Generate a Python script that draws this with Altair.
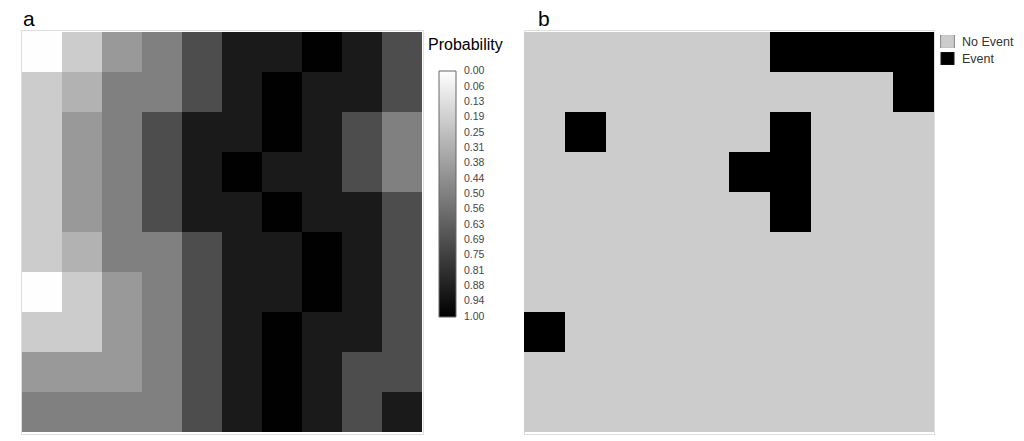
import altair as alt
import pandas as pd

# Probability grid (rows top -> bottom, columns left -> right)
row_01 = [0.0, 0.2, 0.4, 0.5, 0.7, 0.9, 0.9, 1.0, 0.9, 0.7]
row_02 = [0.2, 0.3, 0.5, 0.5, 0.7, 0.9, 1.0, 0.9, 0.9, 0.7]
row_03 = [0.2, 0.4, 0.5, 0.7, 0.9, 0.9, 1.0, 0.9, 0.7, 0.5]
row_04 = [0.2, 0.4, 0.5, 0.7, 0.9, 1.0, 0.9, 0.9, 0.7, 0.5]
row_05 = [0.2, 0.4, 0.5, 0.7, 0.9, 0.9, 1.0, 0.9, 0.9, 0.7]
row_06 = [0.2, 0.3, 0.5, 0.5, 0.7, 0.9, 0.9, 1.0, 0.9, 0.7]
row_07 = [0.0, 0.2, 0.4, 0.5, 0.7, 0.9, 0.9, 1.0, 0.9, 0.7]
row_08 = [0.2, 0.2, 0.4, 0.5, 0.7, 0.9, 1.0, 0.9, 0.9, 0.7]
row_09 = [0.4, 0.4, 0.4, 0.5, 0.7, 0.9, 1.0, 0.9, 0.7, 0.7]
row_10 = [0.5, 0.5, 0.5, 0.5, 0.7, 0.9, 1.0, 0.9, 0.7, 0.9]
prob_rows = [row_01, row_02, row_03, row_04, row_05, row_06, row_07, row_08, row_09, row_10]

# Event cells (row, column), 1-based from top-left
event_rows = [1, 1, 1, 1, 2, 3, 3, 4, 4, 5, 8]
event_cols = [7, 8, 9, 10, 10, 2, 7, 6, 7, 7, 1]

legend_values = [k / 16 for k in range(17)]
event_labels = ["No Event", "Event"]
event_colors = ["#cccccc", "#000000"]

FONT = "Liberation Sans"

prob_records = []
for r, vals in enumerate(prob_rows, start=1):
    for c, v in enumerate(vals, start=1):
        prob_records.append({"row": r, "col": c, "p": v})
prob_df = pd.DataFrame(prob_records)

event_set = set(zip(event_rows, event_cols))
ev_records = []
for r in range(1, 11):
    for c in range(1, 11):
        ev_records.append({"row": r, "col": c,
                           "status": "Event" if (r, c) in event_set else "No Event"})
ev_df = pd.DataFrame(ev_records)

# tiny padding of the domain keeps the end labels vertically centred on their ticks
prob_scale = alt.Scale(domain=[1.002, -0.002], range=["#000000", "#ffffff"], interpolate="rgb")
band_x = alt.Scale(round=True)
band_y = alt.Scale(round=True)

heat = alt.Chart(prob_df).mark_rect().encode(
    x=alt.X("col:O", axis=None, scale=band_x),
    y=alt.Y("row:O", axis=None, scale=band_y),
    color=alt.Color(
        "p:Q",
        scale=prob_scale,
        legend=alt.Legend(
            title=None,
            orient="none",
            legendX=418,
            legendY=41,
            values=legend_values,
            format=".2f",
            gradientLength=246,
            gradientThickness=17,
            gradientStrokeColor="#666666",
            gradientStrokeWidth=1,
            labelOverlap=False,
            labelOffset=8,
            labelFontSize=10.5,
            labelFont=FONT,
            labelColor="#444444",
        ),
    ),
)

prob_title = alt.Chart(pd.DataFrame({"t": ["Probability"]})).mark_text(
    align="left", baseline="alphabetic", fontSize=16, font=FONT, color="#000000"
).encode(x=alt.value(407), y=alt.value(20), text="t:N")

left = alt.layer(heat, prob_title).properties(
    width=402, height=404,
    title=alt.TitleParams("a", anchor="start", fontSize=21, font=FONT,
                          fontWeight="normal", dx=2, offset=0),
)

right = alt.Chart(ev_df).mark_rect().encode(
    x=alt.X("col:O", axis=None, scale=band_x),
    y=alt.Y("row:O", axis=None, scale=band_y),
    color=alt.Color(
        "status:N",
        scale=alt.Scale(domain=event_labels, range=event_colors),
        legend=alt.Legend(
            title=None,
            orient="none",
            legendX=416,
            legendY=5,
            symbolType="square",
            symbolSize=190,
            symbolStrokeColor="#888888",
            symbolStrokeWidth=1,
            clipHeight=13,
            labelOffset=7,
            labelFontSize=12.5,
            labelFont=FONT,
            labelColor="#333333",
            rowPadding=4,
        ),
    ),
).properties(
    width=410, height=404,
    title=alt.TitleParams("b", anchor="start", fontSize=21, font=FONT,
                          fontWeight="normal", dx=14, offset=0),
)

chart = alt.hconcat(left, right, spacing=101, bounds="flush").resolve_scale(
    color="independent"
).properties(
    padding={"left": 12, "top": 0, "right": 0, "bottom": 0}
).configure_view(stroke="transparent", strokeWidth=0).configure(background="#ffffff")

chart.save("out.html", embed_options={"renderer": "svg", "actions": False})
